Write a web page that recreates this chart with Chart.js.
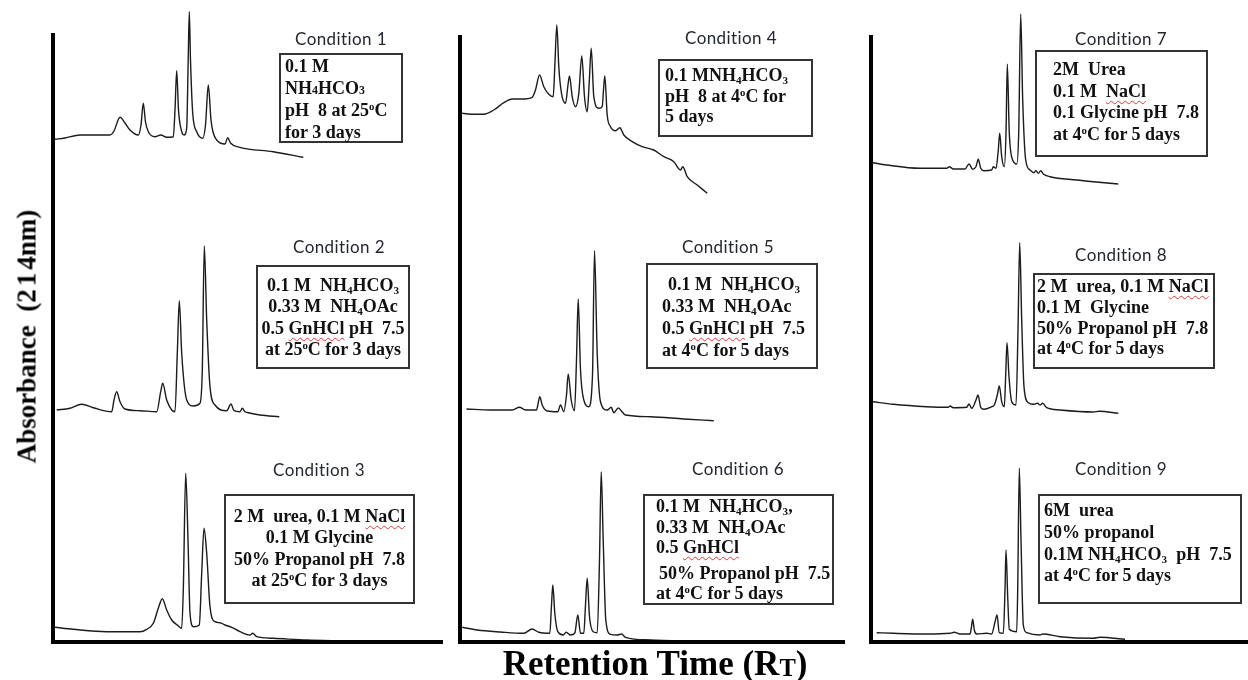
<!DOCTYPE html>
<html>
<head>
<meta charset="utf-8">
<script src="https://cdn.jsdelivr.net/npm/chart.js@4.4.1/dist/chart.umd.min.js"></script>
<style>
  html, body { margin: 0; padding: 0; background: #fff; }
  #fig { position: relative; width: 1248px; height: 680px; overflow: hidden; background: #fff; }
  #fig canvas { position: absolute; top: 0; }
  .cond { position: absolute; z-index: 2; font-family: Lato, "Open Sans", sans-serif; font-size: 17px; line-height: 20px;
          color: #23272e; white-space: nowrap; transform: translateX(-50%); letter-spacing: 0.4px; }
  .box { position: absolute; z-index: 2; box-sizing: border-box; border: 2px solid #333;
         font-family: "Liberation Serif", "Times New Roman", serif; font-weight: bold; font-size: 18px;
         color: #111; white-space: nowrap; }
  .box sub { font-size: 0.62em; vertical-align: -0.28em; line-height: 0; }
  .box sup { font-size: 0.6em; vertical-align: 0.55em; line-height: 0; }
  .box .sm { font-size: 0.66em; line-height: 0; }
  .sp { text-decoration: underline wavy #e03a3a; text-decoration-thickness: 1px; text-underline-offset: 3px;
        text-decoration-skip-ink: none; }
  .axt { position: absolute; z-index: 2; font-family: "Liberation Serif", "Times New Roman", serif; font-weight: bold;
         color: #000; white-space: nowrap; text-align: center; }
  #xt { font-size: 35px; line-height: 35px; width: 400px; left: 455px; top: 646px; }
  #xt sub { font-size: 0.7em; vertical-align: -0.06em; line-height: 0; }
  #yt { font-size: 27px; line-height: 27px; width: 300px; height: 27px; left: -123px; top: 323px; transform: rotate(-90deg); }
</style>
</head>
<body>
<div id="fig">
  <canvas id="p1" width="410" height="680" style="left:40px"></canvas>
  <canvas id="p2" width="410" height="680" style="left:450px"></canvas>
  <canvas id="p3" width="388" height="680" style="left:860px"></canvas>

  <div class="cond" style="left:341px;top:29px">Condition 1</div>
  <div class="cond" style="left:339px;top:237px">Condition 2</div>
  <div class="cond" style="left:319px;top:460px">Condition 3</div>
  <div class="cond" style="left:731px;top:28px">Condition 4</div>
  <div class="cond" style="left:728px;top:237px">Condition 5</div>
  <div class="cond" style="left:738px;top:459px">Condition 6</div>
  <div class="cond" style="left:1121px;top:29px">Condition 7</div>
  <div class="cond" style="left:1121px;top:245px">Condition 8</div>
  <div class="cond" style="left:1121px;top:459px">Condition 9</div>

  <div class="box" style="left:279px;top:53px;width:124px;height:90px;padding:0 0 0 4px;line-height:22px">
    <div>0.1 M</div>
    <div>NH<span class="sm">4</span>HCO<span class="sm">3</span></div>
    <div>pH&nbsp; 8 at 25<sup>o</sup>C</div>
    <div>for 3 days</div>
  </div>
  <div class="box" style="left:256px;top:265px;width:154px;height:104px;padding-top:8px;line-height:21.4px;text-align:center">
    <div>0.1 M&nbsp; NH<sub>4</sub>HCO<sub>3</sub></div>
    <div>0.33 M&nbsp; NH<sub>4</sub>OAc</div>
    <div>0.5 <span class="sp">GnHCl</span> pH&nbsp; 7.5</div>
    <div>at 25<sup>o</sup>C for 3 days</div>
  </div>
  <div class="box" style="left:224px;top:494px;width:191px;height:110px;padding-top:10px;line-height:21.3px;text-align:center">
    <div>2 M&nbsp; urea, 0.1 M <span class="sp">NaCl</span></div>
    <div>0.1 M Glycine</div>
    <div>50% Propanol pH&nbsp; 7.8</div>
    <div>at 25<sup>o</sup>C for 3 days</div>
  </div>
  <div class="box" style="left:658px;top:59px;width:155px;height:78px;padding:4px 0 0 5px;line-height:20.5px">
    <div>0.1 MNH<sub>4</sub>HCO<sub>3</sub></div>
    <div>pH&nbsp; 8 at 4<sup>o</sup>C for</div>
    <div>5 days</div>
  </div>
  <div class="box" style="left:646px;top:263px;width:172px;height:106px;padding:8px 0 0 14px;line-height:22px">
    <div style="padding-left:6px">0.1 M&nbsp; NH<sub>4</sub>HCO<sub>3</sub></div>
    <div>0.33 M&nbsp; NH<sub>4</sub>OAc</div>
    <div>0.5 <span class="sp">GnHCl</span> pH&nbsp; 7.5</div>
    <div>at 4<sup>o</sup>C for 5 days</div>
  </div>
  <div class="box" style="left:643px;top:494px;width:191px;height:111px;padding:0 0 0 11px;line-height:20.5px">
    <div>0.1 M&nbsp; NH<sub>4</sub>HCO<sub>3</sub>,</div>
    <div>0.33 M&nbsp; NH<sub>4</sub>OAc</div>
    <div>0.5 <span class="sp">GnHCl</span></div>
    <div style="padding-left:3px;margin-top:5px">50% Propanol pH&nbsp; 7.5</div>
    <div>at 4<sup>o</sup>C for 5 days</div>
  </div>
  <div class="box" style="left:1035px;top:50px;width:173px;height:107px;padding:7px 0 0 16px;line-height:21.7px">
    <div>2M&nbsp; Urea</div>
    <div>0.1 M&nbsp; <span class="sp">NaCl</span></div>
    <div>0.1 Glycine pH&nbsp; 7.8</div>
    <div>at 4<sup>o</sup>C for 5 days</div>
  </div>
  <div class="box" style="left:1033px;top:273px;width:182px;height:96px;padding:1px 0 0 2px;line-height:20.8px">
    <div>2 M&nbsp; urea, 0.1 M <span class="sp">NaCl</span></div>
    <div>0.1 M&nbsp; Glycine</div>
    <div>50% Propanol pH&nbsp; 7.8</div>
    <div>at 4<sup>o</sup>C for 5 days</div>
  </div>
  <div class="box" style="left:1038px;top:494px;width:204px;height:110px;padding:4px 0 0 4px;line-height:21.8px">
    <div>6M&nbsp; urea</div>
    <div>50% propanol</div>
    <div>0.1M NH<sub>4</sub>HCO<sub>3</sub>&nbsp; pH&nbsp; 7.5</div>
    <div>at 4<sup>o</sup>C for 5 days</div>
  </div>

  <div id="yt" class="axt">Absorbance&nbsp; (<span style="letter-spacing:3px">21</span>4nm)</div>
  <div id="xt" class="axt">Retention Time (R<sub>T</sub>)</div>
</div>

<script>
// Chromatogram traces: [retention time (min), absorbance (mAU) above the trace's own baseline]
const cond1 = [[0.2,1.7],[1.2,3],[2.7,6],[5.7,6],[6.1,10],[6.7,23.7],[7.2,18],[7.7,11],[8.53,6],[8.8,16],[9.03,37.7],
  [9.25,19],[9.53,9.3],[10.2,4.3],[10.77,6],[11.37,3.7],[12.03,4.3],[12.2,31],[12.37,70.3],[12.55,31],[12.87,9.3],
  [13.1,6],[13.37,13],[13.52,81],[13.63,129.3],[13.75,81],[13.97,28],[14.37,9.3],[14.97,2.7],[15.25,16],[15.53,56],
  [15.8,21],[16.0,9],[16.37,1],[17.2,-3],[17.47,3.3],[17.77,-2.3],[18.7,-6.3],[22.03,-10.7],[25.03,-16.3]];
const cond2 = [[0.37,1],[1.7,2.7],[2.87,6.7],[4.03,3.3],[5.87,-0.7],[6.1,11],[6.37,19.3],[6.7,9.3],[7.2,2],[8.7,0.3],
  [10.37,-0.7],[10.77,19.3],[10.97,27.7],[11.37,11],[11.87,1],[12.2,-0.7],[12.43,57.7],[12.63,110.3],[12.87,57.7],
  [13.37,11],[14.03,5],[14.7,7.7],[14.93,41],[15.13,165],[15.37,91],[15.7,24.3],[16.2,6],[17.37,0.3],[17.8,7],
  [18.1,0.3],[18.7,-0.7],[18.93,2.7],[19.2,-0.7],[19.53,-1.7],[20.7,-4],[22.63,-5.7]];
const cond3 = [[0.2,3.7],[2.03,1.7],[5.37,-0.7],[8.7,-0.7],[9.37,1.7],[10.03,7.7],[10.53,22.7],[10.93,32.3],[11.37,21],
  [11.87,11],[12.43,6],[12.87,2.7],[13.03,41],[13.27,157.7],[13.5,91],[13.7,17.7],[14.03,4.3],[14.63,6],[14.87,57.7],
  [15.1,102.7],[15.37,77.7],[15.7,24.3],[16.2,9.3],[16.7,8.3],[17.2,6],[17.87,3.7],[18.7,-0.7],[19.7,-4],[19.97,-2.3],
  [20.37,-5.7],[22.03,-7.3],[25.37,-9],[29.03,-10]];
const cond4 = [[0.22,27.7],[1.38,26.7],[2.38,26.7],[3.38,31],[4.38,38.3],[5.22,42],[6.22,42],[7.22,43.7],[7.55,51],
  [7.95,66],[8.38,54.3],[8.88,46.7],[9.32,44.3],[9.48,74.3],[9.68,116],[9.88,74.3],[10.15,47.7],[10.55,37.7],
  [10.8,56],[10.95,65],[11.22,44.3],[11.55,34.3],[11.88,47.7],[12.18,85],[12.45,44.3],[12.72,29.3],[12.92,58],
  [13.12,92.7],[13.38,44.3],[13.88,32.7],[14.22,34.3],[14.35,51],[14.48,65],[14.72,26],[15.05,14.3],[15.55,10.3],
  [15.98,13.3],[16.38,6],[17.22,-0.7],[18.22,-5.7],[19.38,-9],[20.38,-15.7],[21.38,-20.7],[22.05,-29],[22.28,-25.7],
  [22.72,-35.7],[23.72,-44],[24.72,-52.3]];
const cond5 = [[0.65,2],[3.05,1],[5.22,1],[5.95,3.7],[6.55,1],[7.65,1],[7.82,8],[7.98,14.3],[8.22,6],[8.72,0],
  [9.78,-0.7],[10.05,6],[10.38,-0.7],[10.65,16],[10.82,37],[11.12,11],[11.45,0.3],[11.65,51],[11.82,112],[12.05,41],
  [12.38,11],[12.88,4.3],[13.25,36],[13.45,160.3],[13.72,57.7],[14.05,9.3],[14.72,1],[15.12,3.7],[15.38,-1.7],
  [15.82,3],[16.12,0.3],[16.55,-4],[19.05,-5.7],[22.38,-8],[25.38,-9.7]];
const cond6 = [[0.22,3.7],[1.72,1],[4.05,-1],[6.38,-2.3],[7.22,2],[7.88,-1.3],[8.98,-2.3],[9.15,26],[9.28,46],
  [9.48,17.7],[9.78,-0.7],[10.32,-4],[10.62,-1.3],[11.05,-4],[11.48,-2],[11.78,16],[12.05,-2.3],[12.38,-2.3],
  [12.55,26],[12.72,52.7],[12.95,14.3],[13.32,-0.7],[13.72,-1.7],[13.95,71],[14.12,159.3],[14.32,91],[14.58,11],
  [15.05,-3.3],[15.72,-4],[16.15,-3],[16.55,-6.3],[19.05,-9],[22.38,-10],[24.38,-10.3]];
const cond7 = [[0.17,8.3],[1.57,6],[4.9,2.7],[7.57,2.7],[7.83,4.3],[8.23,2],[9.4,2],[9.8,7],[10.17,1.7],[10.5,4.5],
  [10.73,11.7],[10.97,2.7],[11.3,0.3],[12.07,1],[12.23,4.3],[12.5,2.7],[12.73,21],[12.87,37.7],[13.07,14.3],
  [13.33,4.3],[13.5,38],[13.63,106.7],[13.83,37.7],[14.17,11],[14.57,7],[14.77,38],[14.97,157],[15.17,71],[15.47,11],
  [15.9,1],[16.3,-1.7],[16.5,0.3],[16.73,-2.3],[16.97,0.3],[17.23,-3],[17.9,-5.7],[20.57,-9],[22.23,-10.7],[24.73,-13]];
const cond8 = [[0.17,9.3],[2.23,6.7],[5.57,4.3],[7.73,3.7],[7.9,5],[8.23,3.3],[9.57,3.7],[9.8,7],[10.07,2.7],[10.5,11],
  [10.7,16],[10.97,3.7],[11.3,1.7],[12.07,4.3],[12.33,6],[12.63,16],[12.83,25],[13.07,9.3],[13.33,4.3],[13.47,36],
  [13.6,68.3],[13.8,34.3],[14.07,9.3],[14.5,6],[14.7,81],[14.87,168.3],[15.07,91],[15.3,24.3],[15.73,8.3],[16.23,6.7],
  [16.67,7.7],[16.9,6],[17.17,7.7],[17.57,3.3],[18.9,1],[22.23,-1],[22.83,-0.3],[24.73,-2.3]];
const cond9 = [[0.57,-1.7],[2.23,-2.3],[5.57,-3],[7.9,-2.3],[8.33,-1.3],[8.9,-3],[9.9,-3],[10.03,3],[10.17,11.7],
  [10.33,1],[10.57,-3],[11.57,-2.3],[12.07,-3],[12.4,9],[12.6,16],[12.83,-1.7],[13.23,-2.3],[13.4,41],[13.5,81],
  [13.67,34.3],[13.83,1.7],[14.57,-0.7],[14.67,41],[14.83,162.7],[15.0,91],[15.23,6],[15.57,-1.7],[16.9,-4],
  [17.17,-3],[18.9,-5.7],[22.23,-7.3],[22.9,-6.3],[25.4,-8.3]];

// Three stacked runs per panel, top to bottom
const panelRuns = [[cond1, cond2, cond3], [cond4, cond5, cond6], [cond7, cond8, cond9]];

// Panel layout: chart-area padding inside each canvas, and how far each run's baseline sits above the x axis
const panelLayout = [
  { id: 'p1', pad: { left: 13, right: 7, top: 33, bottom: 38 }, lift: [501, 231, 11] },
  { id: 'p2', pad: { left: 10, right: 15, top: 35, bottom: 38 }, lift: [501, 231, 11] },
  { id: 'p3', pad: { left: 11, right: 0, top: 35, bottom: 38 }, lift: [471, 231, 11] }
];

// Heavy L-shaped axes along the chart area's left and bottom edges
const axisFrame = {
  id: 'axisFrame',
  afterDatasetsDraw(chart) {
    const { ctx, chartArea: a } = chart;
    ctx.save();
    ctx.strokeStyle = '#000';
    ctx.lineWidth = 4;
    ctx.lineCap = 'butt';
    ctx.beginPath();
    ctx.moveTo(a.left, a.top);
    ctx.lineTo(a.left, a.bottom + 2);
    ctx.moveTo(a.left - 2, a.bottom);
    ctx.lineTo(a.right, a.bottom);
    ctx.stroke();
    ctx.restore();
  }
};

panelLayout.forEach((p, i) => {
  const canvas = document.getElementById(p.id);
  const plotW = canvas.width - p.pad.left - p.pad.right;
  const plotH = canvas.height - p.pad.top - p.pad.bottom;
  const scales = { x: { type: 'linear', axis: 'x', position: 'bottom', display: false, min: 0, max: plotW / 10 } };
  p.lift.forEach((lift, r) => {
    scales['row' + r] = { type: 'linear', axis: 'y', position: 'left', display: false, min: -lift, max: plotH - lift };
  });
  new Chart(canvas, {
    type: 'line',
    data: {
      datasets: panelRuns[i].map((run, r) => ({
        data: run.map(([t, a]) => ({ x: t, y: a })),
        xAxisID: 'x',
        yAxisID: 'row' + r,
        borderColor: '#1c1c1c',
        borderWidth: 1.4,
        pointRadius: 0,
        fill: false,
        cubicInterpolationMode: 'monotone',
        clip: false
      }))
    },
    options: {
      responsive: false,
      animation: false,
      events: [],
      layout: { padding: p.pad },
      plugins: { legend: { display: false }, tooltip: { enabled: false }, title: { display: false } },
      scales
    },
    plugins: [axisFrame]
  });
});
</script>
</body>
</html>
